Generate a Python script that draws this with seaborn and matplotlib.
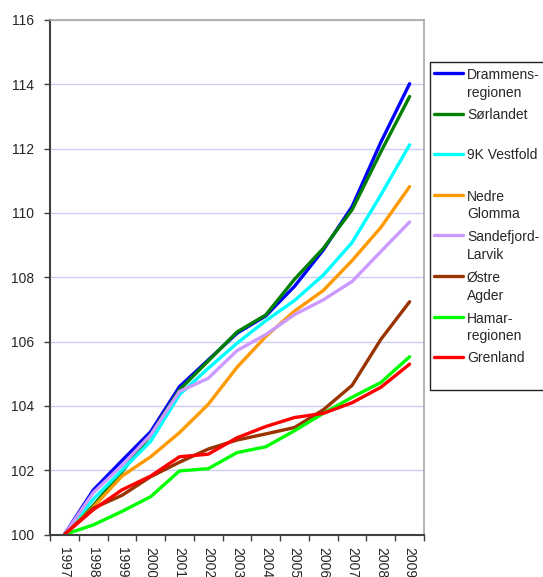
import pandas as pd
import matplotlib
matplotlib.use('Agg')
import matplotlib.pyplot as plt
from matplotlib.lines import Line2D
from matplotlib.patches import Rectangle
import seaborn as sns

# data (index, 1997 = 100)
years = [str(y) for y in range(1997, 2010)]
regions = ['Drammens-\nregionen', 'Sørlandet', '9K Vestfold', 'Nedre\nGlomma',
           'Sandefjord-\nLarvik', 'Østre\nAgder', 'Hamar-\nregionen', 'Grenland']
colors = ['#0000ff', '#008000', '#00ffff', '#ff9900',
          '#cc99ff', '#993300', '#00ff00', '#ff0000']

drammensregionen = [100, 101.38, 102.3, 103.2, 104.6, 105.43, 106.26, 106.8,
                    107.72, 108.85, 110.2, 112.2, 114.02]
sorlandet = [100, 100.9, 101.95, 103.1, 104.5, 105.4, 106.3, 106.83,
             107.94, 108.9, 110.1, 111.9, 113.62]
vestfold_9k = [100, 101.1, 102.0, 102.9, 104.35, 105.17, 105.95, 106.65,
               107.28, 108.07, 109.08, 110.56, 112.12]
nedre_glomma = [100, 100.85, 101.82, 102.42, 103.17, 104.05, 105.2, 106.16,
                106.95, 107.59, 108.52, 109.55, 110.82]
sandefjord_larvik = [100, 101.3, 102.15, 103.1, 104.45, 104.86, 105.72, 106.22,
                     106.84, 107.3, 107.87, 108.8, 109.72]
ostre_agder = [100, 100.82, 101.22, 101.8, 102.25, 102.66, 102.94, 103.13,
               103.33, 103.88, 104.64, 106.07, 107.24]
hamarregionen = [100, 100.3, 100.72, 101.18, 101.98, 102.05, 102.55, 102.73,
                 103.23, 103.77, 104.27, 104.73, 105.53]
grenland = [100, 100.77, 101.39, 101.82, 102.42, 102.5, 103.01, 103.36,
            103.64, 103.77, 104.1, 104.58, 105.3]

series = [drammensregionen, sorlandet, vestfold_9k, nedre_glomma,
          sandefjord_larvik, ostre_agder, hamarregionen, grenland]

rows = []
for name, vals in zip(regions, series):
    for i, v in enumerate(vals):
        rows.append({'pos': i, 'region': name, 'value': v})
df = pd.DataFrame(rows)

sns.set_theme(style='white')
plt.rcParams['font.family'] = ['Liberation Sans', 'DejaVu Sans']
plt.rcParams['font.size'] = 10

W, H = 543, 577
fig = plt.figure(figsize=(W / 100, H / 100), dpi=100)
ax = fig.add_axes([50 / W, 1 - 534.6 / H, (424 - 50) / W, (534.6 - 20) / H])

sns.lineplot(data=df, x='pos', y='value', hue='region', hue_order=regions,
             palette=dict(zip(regions, colors)), linewidth=2.4,
             legend=False, ax=ax)

ax.set_xlim(-0.5, len(years) - 0.5)
ax.set_ylim(100, 116)
ax.set_yticks(range(100, 117, 2))
ax.set_xticks(range(len(years)))
ax.set_xticklabels(years, rotation=-90, va='top', ha='center', fontsize=10)
ax.set_xticks([i - 0.5 for i in range(len(years) + 1)], minor=True)
ax.tick_params(axis='x', which='major', length=0, pad=9)
ax.tick_params(axis='x', which='minor', length=4.5, width=1, color='#404040',
               direction='out', bottom=True)
ax.tick_params(axis='y', length=4.5, width=1, color='#404040',
               direction='out', left=True, pad=7, labelsize=10)
ax.set_xlabel('')
ax.set_ylabel('')
ax.yaxis.grid(True, color='#ccccf5', linewidth=1)
ax.xaxis.grid(False)
for side in ['left', 'bottom']:
    ax.spines[side].set_color('#404040')
    ax.spines[side].set_linewidth(1.5)
for side in ['top', 'right']:
    ax.spines[side].set_color('#a8a8a8')
    ax.spines[side].set_linewidth(1.2)

# hand-made legend box, Excel style: uniform slots, text hanging from the handle
fig.patches.append(Rectangle((430 / W, 1 - 390 / H), 140 / W, (390 - 61.7) / H,
                             transform=fig.transFigure, facecolor='white',
                             edgecolor='#202020', linewidth=1))
line_step = 18.7
for k, (name, col) in enumerate(zip(regions, colors)):
    yp = 73 + k * 40.6
    fig.lines.append(Line2D([434 / W, 463 / W], [1 - yp / H, 1 - yp / H],
                            transform=fig.transFigure, color=col, linewidth=2.4))
    n_extra = name.count('\n')
    fig.text(467 / W, 1 - (yp + 5 + n_extra * line_step) / H, name,
             va='baseline', ha='left', fontsize=10, linespacing=1.34)

fig.savefig('out.png', dpi=100)
